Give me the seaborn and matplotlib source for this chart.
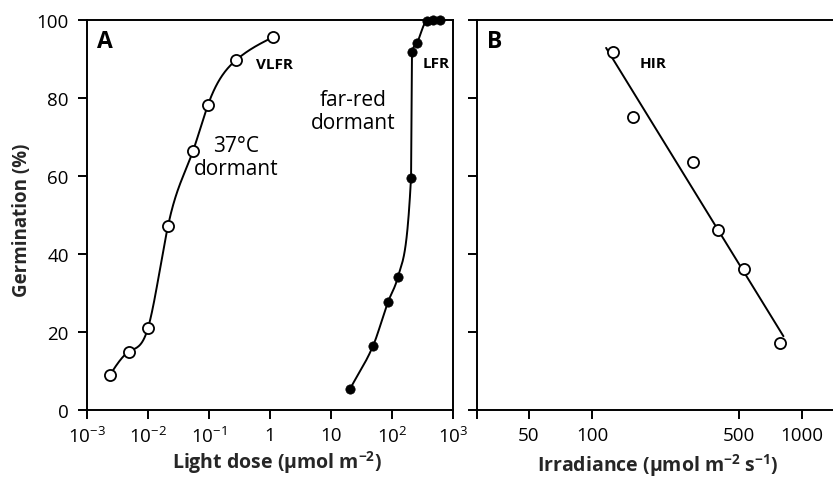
import numpy as np
import pandas as pd
import matplotlib
matplotlib.use("Agg")
import matplotlib.pyplot as plt
import seaborn as sns

# ---- data ----
vlfr_dose = [0.00238, 0.00489, 0.0100, 0.0213, 0.0547, 0.096, 0.277, 1.12]
vlfr_germ = [9.0, 15.0, 21.0, 47.2, 66.4, 78.2, 89.7, 95.6]

lfr_dose = [20.5, 48.8, 86, 125, 205, 213, 257, 375, 470, 612]
lfr_germ = [5.4, 16.4, 27.7, 34.1, 59.5, 91.8, 94.1, 99.8, 100, 100]

hir_irr = [126, 157, 303, 398, 529, 785]
hir_germ = [91.8, 75.1, 63.6, 46.2, 36.2, 17.2]

a_ticks = [1e-3, 1e-2, 1e-1, 1, 10, 100, 1000]
a_ticklabels = [r'$10^{-3}$', r'$10^{-2}$', r'$10^{-1}$', '1', '10', r'$10^{2}$', r'$10^{3}$']
b_ticks = [28.3, 50, 100, 500, 1000]
b_ticklabels = ['', '50', '100', '500', '1000']
y_ticks = [0, 20, 40, 60, 80, 100]


def pchip(x, y, xn):
    x = np.asarray(x, float); y = np.asarray(y, float)
    h = np.diff(x); d = np.diff(y) / h
    n = len(x); m = np.zeros(n)
    for k in range(1, n - 1):
        if d[k - 1] * d[k] > 0:
            w1 = 2 * h[k] + h[k - 1]; w2 = h[k] + 2 * h[k - 1]
            m[k] = (w1 + w2) / (w1 / d[k - 1] + w2 / d[k])
    m[0] = d[0]; m[-1] = d[-1]
    idx = np.clip(np.searchsorted(x, xn) - 1, 0, n - 2)
    t = (xn - x[idx]) / h[idx]
    h00 = 2 * t**3 - 3 * t**2 + 1; h10 = t**3 - 2 * t**2 + t
    h01 = -2 * t**3 + 3 * t**2; h11 = t**3 - t**2
    return h00 * y[idx] + h10 * h[idx] * m[idx] + h01 * y[idx + 1] + h11 * h[idx] * m[idx + 1]


def natural_spline(x, y, xn):
    x = np.asarray(x, float); y = np.asarray(y, float)
    n = len(x); h = np.diff(x)
    A = np.zeros((n, n)); r = np.zeros(n)
    A[0, 0] = 1; A[-1, -1] = 1
    for i in range(1, n - 1):
        A[i, i - 1] = h[i - 1]; A[i, i] = 2 * (h[i - 1] + h[i]); A[i, i + 1] = h[i]
        r[i] = 6 * ((y[i + 1] - y[i]) / h[i] - (y[i] - y[i - 1]) / h[i - 1])
    M = np.linalg.solve(A, r)
    idx = np.clip(np.searchsorted(x, xn) - 1, 0, n - 2)
    xi, xi1, hi = x[idx], x[idx + 1], h[idx]
    return (M[idx] * (xi1 - xn)**3 / (6 * hi) + M[idx + 1] * (xn - xi)**3 / (6 * hi)
            + (y[idx] / hi - M[idx] * hi / 6) * (xi1 - xn)
            + (y[idx + 1] / hi - M[idx + 1] * hi / 6) * (xn - xi))


sns.set_theme(style="ticks")
plt.rcParams['font.family'] = ['Open Sans', 'DejaVu Sans']
plt.rcParams['mathtext.fontset'] = 'custom'
plt.rcParams['mathtext.rm'] = 'Open Sans'
plt.rcParams['mathtext.bf'] = 'Open Sans:bold'
plt.rcParams['mathtext.it'] = 'Open Sans:italic'

fig = plt.figure(figsize=(8.33, 4.81), dpi=100)
axA = fig.add_axes([0.1044, 0.1455, 0.4394, 0.8108])
axB = fig.add_axes([0.5726, 0.1455, 0.4274, 0.8108])

lw = 1.4
for ax in (axA, axB):
    for s in ax.spines.values():
        s.set_linewidth(lw)
        s.set_color('black')
    ax.tick_params(direction='out', length=6.2, width=lw, color='black',
                   labelsize=13.5, labelcolor='black')
    ax.tick_params(axis='y', pad=7)
    ax.tick_params(axis='x', pad=5)
    ax.tick_params(which='minor', length=0)
    ax.set_ylim(0, 100)
    ax.set_yticks(y_ticks)

# ---- Panel A ----
lx = np.log10(vlfr_dose)
xs = np.linspace(lx[0], lx[-1], 300)
curve1 = pd.DataFrame({'x': 10**xs, 'y': natural_spline(lx, vlfr_germ, xs)})
lx2 = np.log10(lfr_dose)
xs2 = np.linspace(lx2[0], lx2[-1], 300)
curve2 = pd.DataFrame({'x': 10**xs2, 'y': pchip(lx2, lfr_germ, xs2)})

axA.set_xscale('log')
sns.lineplot(data=curve1, x='x', y='y', ax=axA, color='black', lw=lw, sort=False)
sns.lineplot(data=curve2, x='x', y='y', ax=axA, color='black', lw=lw, sort=False)
sns.scatterplot(x=vlfr_dose, y=vlfr_germ, ax=axA, s=64, facecolor='white',
                edgecolor='black', linewidth=1.3, zorder=5)
sns.scatterplot(x=lfr_dose, y=lfr_germ, ax=axA, s=45, color='black',
                edgecolor='black', linewidth=0.5, zorder=5, clip_on=False)
axA.set_xlim(1e-3, 1e3)
axA.set_xticks(a_ticks)
axA.set_xticklabels(a_ticklabels)
axA.set_xlabel(r'Light dose (µmol m$^{\mathbf{-2}}$)', fontsize=14, fontweight='bold')
axA.set_ylabel('Germination (%)', fontsize=13.5, fontweight='bold')
axA.xaxis.label.set_va('center')
axA.xaxis.set_label_coords(0.52, -0.133)
axA.yaxis.label.set_va('center')
axA.yaxis.set_label_coords(-0.178, 0.49)

kw = dict(transform=fig.transFigure, color='black')
fig.text(97 / 833, 1 - 42 / 481, 'A', fontsize=16.5, fontweight='bold', ha='left', va='center', **kw)
fig.text(487 / 833, 1 - 42 / 481, 'B', fontsize=16.5, fontweight='bold', ha='left', va='center', **kw)
fig.text(274 / 833, 1 - 65 / 481, 'VLFR', fontsize=11, fontweight='bold', ha='center', va='center', **kw)
fig.text(436 / 833, 1 - 64 / 481, 'LFR', fontsize=11, fontweight='bold', ha='center', va='center', **kw)
fig.text(653 / 833, 1 - 64 / 481, 'HIR', fontsize=11, fontweight='bold', ha='center', va='center', **kw)
fig.text(236 / 833, 1 - 158 / 481, '37°C\ndormant', fontsize=15, ha='center', va='center',
         linespacing=1.1, **kw)
fig.text(353 / 833, 1 - 112 / 481, 'far-red\ndormant', fontsize=15, ha='center', va='center',
         linespacing=1.1, **kw)

# ---- Panel B ----
axB.set_xscale('log')
lxb = np.log10(hir_irr)
coef = np.polyfit(lxb, hir_germ, 1)
xl = np.linspace(np.log10(min(hir_irr) / 1.08), np.log10(max(hir_irr) * 1.04), 50)
fitdf = pd.DataFrame({'x': 10**xl, 'y': np.polyval(coef, xl)})
sns.lineplot(data=fitdf, x='x', y='y', ax=axB, color='black', lw=lw)
sns.scatterplot(x=hir_irr, y=hir_germ, ax=axB, s=64, facecolor='white',
                edgecolor='black', linewidth=1.3, zorder=5)
axB.set_xlim(28.3, 1406)
axB.set_xticks(b_ticks)
axB.set_xticklabels(b_ticklabels)
axB.set_yticklabels([])
axB.spines['right'].set_visible(False)
axB.set_xlabel(r'Irradiance (µmol m$^{\mathbf{-2}}$ s$^{\mathbf{-1}}$)', fontsize=14,
               fontweight='bold')
axB.xaxis.label.set_va('center')
axB.xaxis.set_label_coords(0.508, -0.141)
axB.set_ylabel('')

fig.savefig('out.png', dpi=100)
